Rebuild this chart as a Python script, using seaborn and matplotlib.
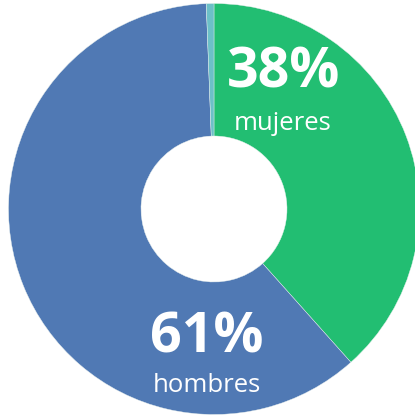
import matplotlib

matplotlib.use('Agg')
import matplotlib.pyplot as plt
import seaborn as sns

# datos
categorias = ['mujeres', 'hombres', 'otros']
porcentajes = [38.4, 61.0, 0.6]
colores = ['#22be72', '#5079b4', '#6cc0c8']

sns.set_theme(style='white')
plt.rcParams['font.family'] = ['Open Sans', 'DejaVu Sans']

fig = plt.figure(figsize=(4.15, 4.18), dpi=100)
ax = fig.add_axes([0, 0, 1, 1])

# pixel-like units: 1 unit = 1 px
cx, cy, r_out, r_in = 214, 209, 205.5, 73
wedges, _ = ax.pie(porcentajes, colors=sns.color_palette(colores), startangle=90,
                   counterclock=False, radius=r_out, center=(cx, cy),
                   wedgeprops=dict(width=r_out - r_in, edgecolor='#e8f0ee', linewidth=0.3))

ax.set_xlim(0, 415)
ax.set_ylim(0, 418)
ax.set_aspect('equal')
ax.axis('off')

# etiquetas
ax.text(284, 418 - 73, f'{porcentajes[0]:.0f}%', color='white', fontsize=40,
        fontweight='bold', ha='center', va='center')
ax.text(283, 418 - 124, categorias[0], color='white', fontsize=18.5,
        ha='center', va='center')
ax.text(207, 418 - 338, f'{porcentajes[1]:.0f}%', color='white', fontsize=40,
        fontweight='bold', ha='center', va='center')
ax.text(207, 418 - 386, categorias[1], color='white', fontsize=18.5,
        ha='center', va='center')

plt.savefig('out.png', dpi=100)
plt.close()
